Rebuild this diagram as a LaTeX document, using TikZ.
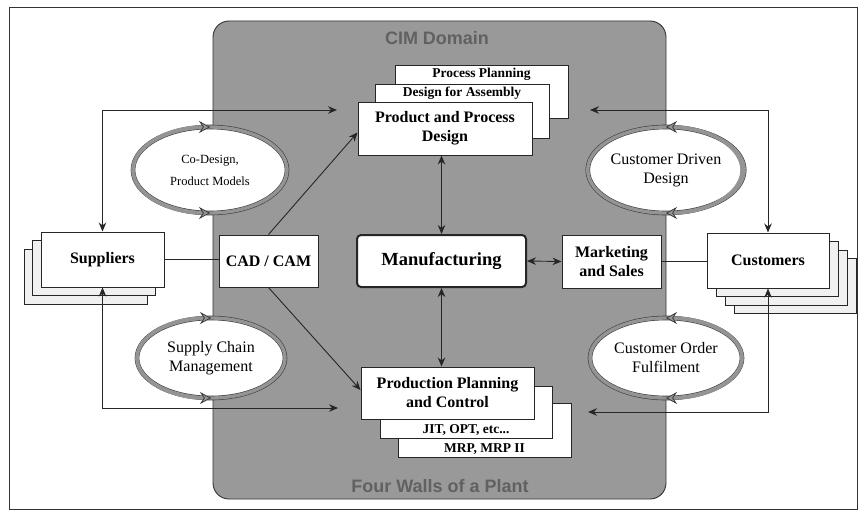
\documentclass[tikz,border=0pt]{standalone}
\usepackage{fontspec}
\setmainfont{Liberation Serif}
\newfontfamily\titlefont{Liberation Sans}
\usetikzlibrary{shapes.geometric,arrows.meta}
\definecolor{zonegray}{gray}{0.6}
\definecolor{ringgray}{gray}{0.58}
\tikzset{outerframe/.style={draw=black!80, line width=0.9pt}}
\tikzset{cimzone/.style={draw=black!80, fill=zonegray, line width=0.9pt, rounded corners=16pt}}
\tikzset{walltitle/.style={text=black!62, font=\titlefont\bfseries\fontsize{18}{20}\selectfont}}
\tikzset{link/.style={line width=0.9pt, draw=black!85, >={Stealth[length=9pt,width=7.5pt]}}}
\tikzset{mainbox/.style={draw=black!85, line width=1pt, fill=white, inner sep=2pt, align=center, font=\bfseries\fontsize{16}{19}\selectfont}}
\tikzset{backbox/.style={mainbox}}
\tikzset{shadowbox/.style={mainbox, fill=gray!12}}
\tikzset{backlabel/.style={inner sep=3pt, font=\bfseries\fontsize{13.5}{15}\selectfont}}
\tikzset{loopring/.style={ellipse, fill=white, draw=black!75, double=ringgray, double distance=3.4pt, line width=0.6pt, outer sep=0pt, inner sep=0pt, align=center, font=\fontsize{16}{19}\selectfont}}
\tikzset{ringhead/.tip={Stealth[length=11pt,width=12pt,inset=4pt,fill=ringgray,color=black!80,line width=0.7pt]}}
\tikzset{ringtip/.style={draw=ringgray, line width=3.4pt, arrows={ringhead-ringhead}}}

\begin{document}
\begin{tikzpicture}[x=1pt,y=-1pt]
\useasboundingbox (0,0) rectangle (861,511);
\draw[outerframe] (9,7) rectangle (857,509);
\draw[cimzone] (213,21) rectangle (666,499);
\node[walltitle] (cim) at (437,38) {CIM Domain};
\node[walltitle] (walls) at (440,486) {Four Walls of a Plant};

\node[loopring, minimum width=154pt, minimum height=86pt, font=\fontsize{12.5}{22}\selectfont] (codes) at (210,170) {Co-Design,\\Product Models};
\node[loopring, minimum width=148pt, minimum height=80pt] (supch) at (211,358) {Supply Chain\\Management};
\node[loopring, minimum width=152pt, minimum height=86pt] (cdd) at (666,170) {Customer Driven\\Design};
\node[loopring, minimum width=152pt, minimum height=80pt] (cof) at (666,358) {Customer Order\\Fulfilment};
\draw[ringtip] (codes.north) arc[start angle=90, end angle=270, x radius=77pt, y radius=43pt];
\draw[ringtip] (supch.north) arc[start angle=90, end angle=270, x radius=74pt, y radius=40pt];
\draw[ringtip] (cdd.north) arc[start angle=90, end angle=-90, x radius=76pt, y radius=43pt];
\draw[ringtip] (cof.north) arc[start angle=90, end angle=-90, x radius=76pt, y radius=40pt];

\node[backbox, minimum width=173pt, minimum height=53pt, label={[backlabel, anchor=north]north:Process Planning}] (pp) at (481.5,91.5) {};
\node[backbox, minimum width=174pt, minimum height=54pt, label={[backlabel, anchor=north]north:Design for Assembly}] (dfa) at (462,111) {};
\node[mainbox, minimum width=174pt, minimum height=53pt] (ppd) at (445,128.5) {Product and Process\\Design};

\node[backbox, minimum width=173pt, minimum height=54pt, label={[backlabel, anchor=south]south:MRP, MRP II}] (mrp) at (484.5,430) {};
\node[backbox, minimum width=172pt, minimum height=52pt, label={[backlabel, anchor=south]south:JIT, OPT, etc...}] (jit) at (466,412) {};
\node[mainbox, minimum width=173pt, minimum height=52pt] (ppc) at (447.5,393) {Production Planning\\and Control};

\node[mainbox, minimum width=169pt, minimum height=52pt, line width=2pt, rounded corners=4pt, font=\bfseries\fontsize{18.5}{20}\selectfont] (mfg) at (441.5,261) {Manufacturing};
\node[mainbox, minimum width=99pt, minimum height=52pt] (cad) at (268.5,261) {CAD / CAM};
\node[mainbox, minimum width=99pt, minimum height=53pt] (mkt) at (611.5,261.5) {Marketing\\and Sales};

\node[shadowbox, minimum width=123pt, minimum height=55pt] (supb) at (85.5,276.5) {};
\node[shadowbox, minimum width=123pt, minimum height=55pt] (supa) at (94,268) {};
\node[mainbox, minimum width=123pt, minimum height=55pt] (sup) at (102.5,259.5) {Suppliers};

\node[shadowbox, minimum width=122pt, minimum height=55pt] (cusc) at (795,286) {};
\node[shadowbox, minimum width=122pt, minimum height=55pt] (cusb) at (786,277.5) {};
\node[shadowbox, minimum width=122pt, minimum height=55pt] (cusa) at (777,269) {};
\node[mainbox, minimum width=122pt, minimum height=55pt] (cus) at (768,260.5) {Customers};

\coordinate (ptop) at (337,110);
\coordinate (pbot) at (338,408);
\coordinate (ctop) at (590,110);
\coordinate (cbot) at (588,412);

\draw[link, <->] (sup.north) |- (ptop);
\draw[link, <->] (sup.south) |- (pbot);
\draw[link, <->] (cus.north) |- (ctop);
\draw[link, <->] (cus.south) |- (cbot);
\draw[link] (sup.east) -- (sup.east -| cad.west);
\draw[link] (mkt.east) -- (mkt.east -| cus.west);
\draw[link, <->] (mfg.east) -- (mkt.west);
\draw[link, <->] (mfg.north) -- (mfg.north |- ppd.south);
\draw[link, <->] (mfg.south) -- (mfg.south |- ppc.north);
\draw[link, ->] (cad.north) -- ([yshift=-4pt]ppd.west);
\draw[link, ->] (cad.south) -- ([yshift=3pt]ppc.west);
\end{tikzpicture}
\end{document}
